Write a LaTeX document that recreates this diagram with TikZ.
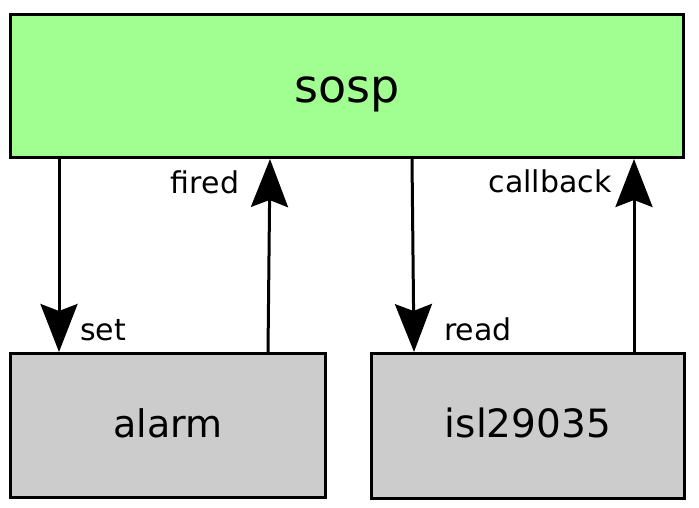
\documentclass[tikz,border=0pt]{standalone}
\usepackage{fontspec}
\setmainfont{DejaVu Sans}
\usetikzlibrary{arrows.meta}
\definecolor{verdesosp}{RGB}{160,255,144}
\definecolor{grismodulo}{RGB}{204,204,204}
\begin{document}
\begin{tikzpicture}[x=1pt,y=-1pt,
		caja/.style={draw, line width=3pt, inner sep=0pt, text depth=0pt},
		flecha/.style={line width=3pt, -{Stealth[length=48pt,width=37pt,inset=7pt]}},
		etiqueta/.style={anchor=base, font=\fontsize{30}{36}\selectfont}]

			\useasboundingbox (0,0) rectangle (699,507);

			% Cajas de los modulos
			\node[caja, fill=verdesosp, minimum width=673pt, minimum height=143pt, text height=32pt, font=\fontsize{46}{55}\selectfont] (sosp) at (347,86) {sosp};
			\node[caja, fill=grismodulo, minimum width=315pt, minimum height=144pt, text height=23pt, font=\fontsize{38}{46}\selectfont] (alarm) at (168,425.5) {alarm};
			\node[caja, fill=grismodulo, minimum width=313pt, minimum height=145pt, text height=23pt, font=\fontsize{39}{47}\selectfont] (isl) at (528,426) {isl29035};

			% Flechas entre modulos
			\draw[flecha] ([xshift=50pt]sosp.south west) -- ([xshift=50pt]alarm.north west);
			\draw[flecha] ([xshift=259pt]alarm.north west) -- ([xshift=261pt]sosp.south west);
			\draw[flecha] ([xshift=403pt]sosp.south west) -- ([xshift=44pt]isl.north west);
			\draw[flecha] ([xshift=264pt]isl.north west) -- ([xshift=625pt]sosp.south west);

			% Etiquetas de las flechas
			\node[etiqueta] (lset) at (103,340) {set};
			\node[etiqueta] (lfired) at (205,193) {fired};
			\node[etiqueta] (lread) at (478,340) {read};
			\node[etiqueta] (lcallback) at (550,192) {callback};

		\end{tikzpicture}
\end{document}
